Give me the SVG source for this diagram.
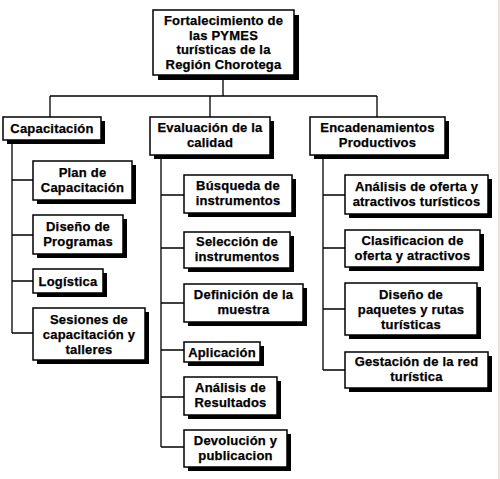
<svg xmlns="http://www.w3.org/2000/svg" width="500" height="479" viewBox="0 0 500 479">
<style>
.sh{fill:#000}
.bx{fill:#fff;stroke:#000;stroke-width:1.5}
.t{font-family:"Liberation Sans",Arial,sans-serif;font-weight:bold;font-size:13px;fill:#000;stroke:#000;stroke-width:0.25;text-anchor:middle;letter-spacing:0.2px}
.c{fill:none;stroke:#000;stroke-width:1.3}
</style>
<rect width="500" height="479" fill="#fff"/>
<rect x="498" y="0" width="2" height="479" fill="#e6e2de"/>
<g id="connectors">
<path class="c" d="M223 75V96M50 96H377M50 96V117M210 96V117M377 96V117"/>
<path class="c" d="M12 140V333M12 180H33M12 235H33M12 281H33M12 333H33"/>
<path class="c" d="M161 155V447M161 195H184M161 248H184M161 303H184M161 350H184M161 397H184M161 447H184"/>
<path class="c" d="M323 155V370M323 195H345M323 248H345M323 309H345M323 370H345"/>
</g>
<g id="root">
<rect class="sh" x="158" y="15" width="141" height="65"/>
<rect class="bx" x="153" y="10" width="141" height="65"/>
<text class="t" x="223.5" y="25">Fortalecimiento de</text>
<text class="t" x="223.5" y="39.5">las PYMES</text>
<text class="t" x="223.5" y="54">turísticas de la</text>
<text class="t" x="223.5" y="68.5">Región Chorotega</text>
</g>
<g id="capacitacion">
<rect class="sh" x="7" y="121" width="98" height="23"/>
<rect class="bx" x="3" y="117" width="98" height="23"/>
<text class="t" x="52" y="133">Capacitación</text>
</g>
<g id="plan">
<rect class="sh" x="37" y="165" width="99" height="39"/>
<rect class="bx" x="33" y="161" width="99" height="39"/>
<text class="t" x="82.5" y="177">Plan de</text>
<text class="t" x="82.5" y="192">Capacitación</text>
</g>
<g id="diseno-programas">
<rect class="sh" x="37" y="219" width="90" height="39"/>
<rect class="bx" x="33" y="215" width="90" height="39"/>
<text class="t" x="78" y="231">Diseño de</text>
<text class="t" x="78" y="246">Programas</text>
</g>
<g id="logistica">
<rect class="sh" x="37" y="273" width="70" height="24"/>
<rect class="bx" x="33" y="269" width="70" height="24"/>
<text class="t" x="68" y="286">Logística</text>
</g>
<g id="sesiones">
<rect class="sh" x="37" y="312" width="112" height="52"/>
<rect class="bx" x="33" y="308" width="112" height="52"/>
<text class="t" x="89" y="324">Sesiones de</text>
<text class="t" x="89" y="339">capacitación y</text>
<text class="t" x="89" y="354">talleres</text>
</g>
<g id="evaluacion">
<rect class="sh" x="154" y="121" width="120" height="38"/>
<rect class="bx" x="150" y="117" width="120" height="38"/>
<text class="t" x="210" y="132">Evaluación de la</text>
<text class="t" x="210" y="147">calidad</text>
</g>
<g id="busqueda">
<rect class="sh" x="188" y="179" width="108" height="38"/>
<rect class="bx" x="184" y="175" width="108" height="38"/>
<text class="t" x="238" y="190">Búsqueda de</text>
<text class="t" x="238" y="205">instrumentos</text>
</g>
<g id="seleccion">
<rect class="sh" x="188" y="236" width="106" height="36"/>
<rect class="bx" x="184" y="232" width="106" height="36"/>
<text class="t" x="237" y="246">Selección de</text>
<text class="t" x="237" y="261">instrumentos</text>
</g>
<g id="definicion">
<rect class="sh" x="188" y="288" width="119" height="38"/>
<rect class="bx" x="184" y="284" width="119" height="38"/>
<text class="t" x="243.5" y="299">Definición de la</text>
<text class="t" x="243.5" y="314">muestra</text>
</g>
<g id="aplicacion">
<rect class="sh" x="188" y="346" width="76" height="20"/>
<rect class="bx" x="184" y="342" width="76" height="20"/>
<text class="t" x="222" y="357">Aplicación</text>
</g>
<g id="analisis-resultados">
<rect class="sh" x="188" y="381" width="93" height="38"/>
<rect class="bx" x="184" y="377" width="93" height="38"/>
<text class="t" x="230.5" y="392">Análisis de</text>
<text class="t" x="230.5" y="407">Resultados</text>
</g>
<g id="devolucion">
<rect class="sh" x="188" y="434" width="103" height="37"/>
<rect class="bx" x="184" y="430" width="103" height="37"/>
<text class="t" x="235.5" y="445">Devolución y</text>
<text class="t" x="235.5" y="460">publicacion</text>
</g>
<g id="encadenamientos">
<rect class="sh" x="314" y="121" width="135" height="38"/>
<rect class="bx" x="310" y="117" width="135" height="38"/>
<text class="t" x="377.5" y="132">Encadenamientos</text>
<text class="t" x="377.5" y="147">Productivos</text>
</g>
<g id="analisis-oferta">
<rect class="sh" x="349" y="179" width="143" height="39"/>
<rect class="bx" x="345" y="175" width="143" height="39"/>
<text class="t" x="416.5" y="191">Análisis de oferta y</text>
<text class="t" x="416.5" y="206">atractivos turísticos</text>
</g>
<g id="clasificacion">
<rect class="sh" x="349" y="234" width="135" height="37"/>
<rect class="bx" x="345" y="230" width="135" height="37"/>
<text class="t" x="412.5" y="245">Clasificacion de</text>
<text class="t" x="412.5" y="260">oferta y atractivos</text>
</g>
<g id="diseno-paquetes">
<rect class="sh" x="349" y="287" width="132" height="52"/>
<rect class="bx" x="345" y="283" width="132" height="52"/>
<text class="t" x="411" y="299">Diseño de</text>
<text class="t" x="411" y="314">paquetes y rutas</text>
<text class="t" x="411" y="329">turísticas</text>
</g>
<g id="gestacion">
<rect class="sh" x="349" y="356" width="143" height="36"/>
<rect class="bx" x="345" y="352" width="143" height="36"/>
<text class="t" x="416.5" y="366">Gestación de la red</text>
<text class="t" x="416.5" y="381">turística</text>
</g>
</svg>
